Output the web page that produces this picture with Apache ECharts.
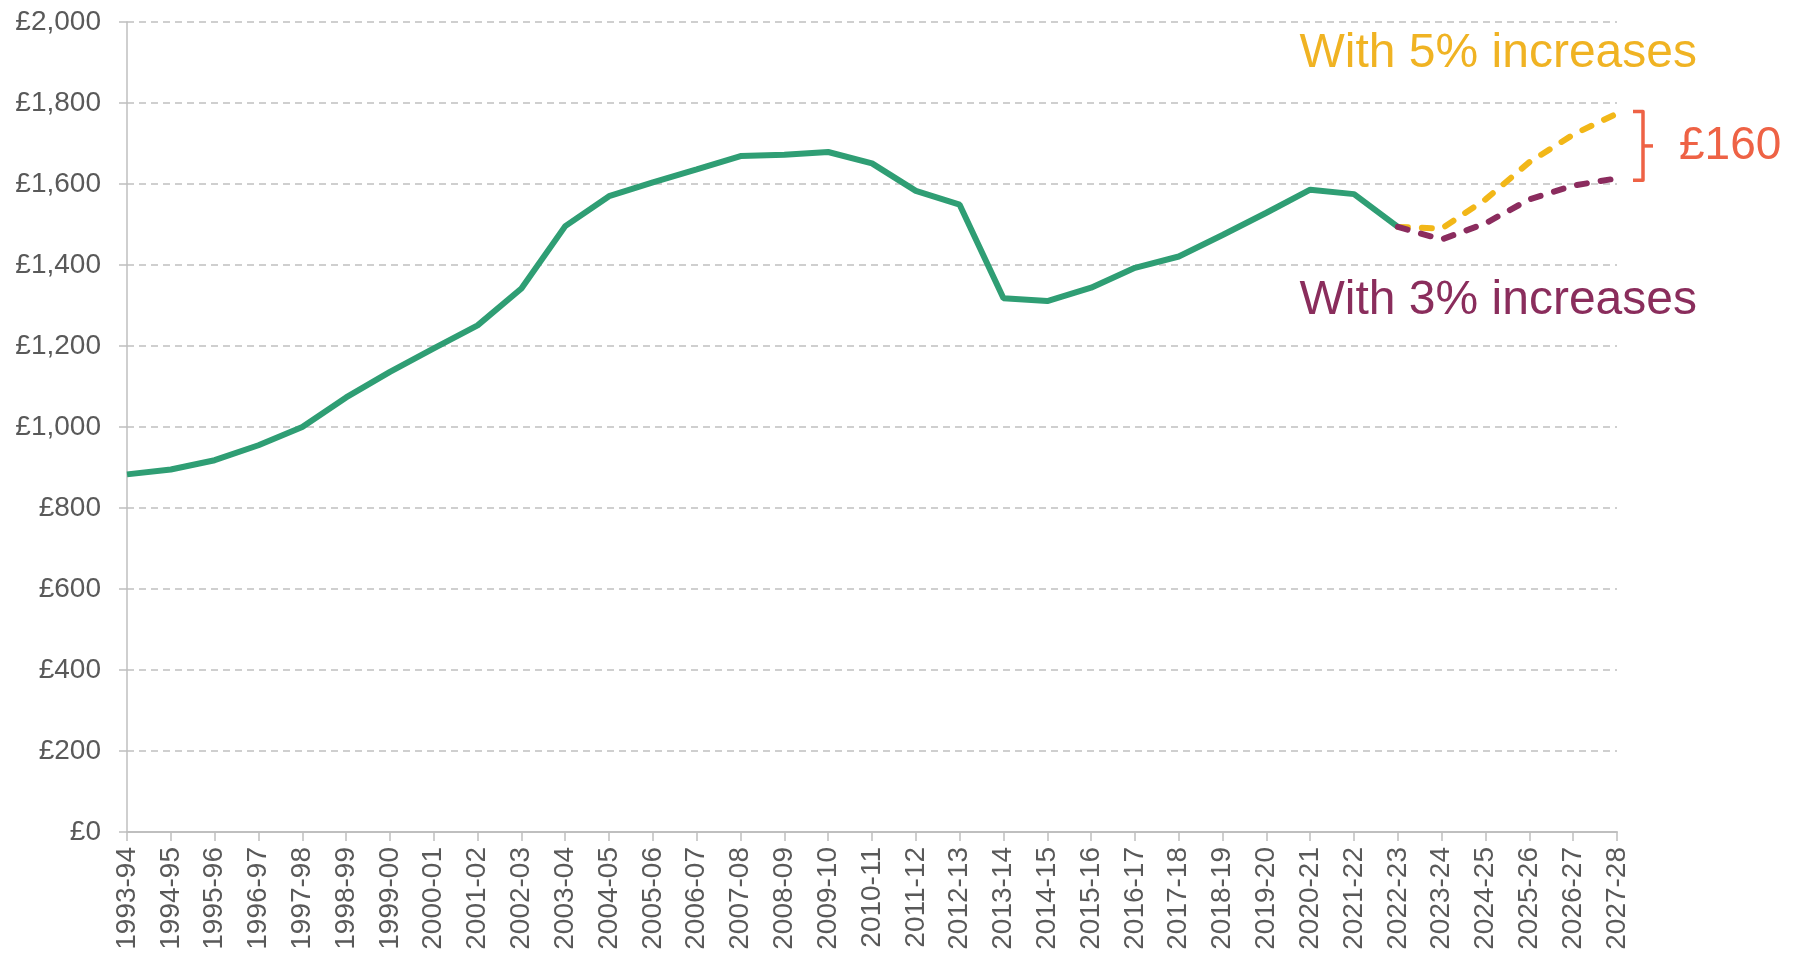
<!DOCTYPE html>
<html>
<head>
<meta charset="utf-8">
<script src="https://cdn.jsdelivr.net/npm/echarts@6/dist/echarts.min.js"></script>
<style>
html,body{margin:0;padding:0;background:#fff;}
#chart{width:1793px;height:959px;}
</style>
</head>
<body>
<div id="chart"></div>
<script>
const categories = ['1993-94','1994-95','1995-96','1996-97','1997-98','1998-99','1999-00','2000-01','2001-02','2002-03','2003-04','2004-05','2005-06','2006-07','2007-08','2008-09','2009-10','2010-11','2011-12','2012-13','2013-14','2014-15','2015-16','2016-17','2017-18','2018-19','2019-20','2020-21','2021-22','2022-23','2023-24','2024-25','2025-26','2026-27','2027-28'];
const actual = [883,895,918,955,1000,1073,1136,1194,1251,1342,1496,1570,1604,1636,1669,1672,1679,1651,1583,1549,1318,1311,1344,1393,1421,1474,1529,1586,1575,1494,null,null,null,null,null];
const with5 = [null,null,null,null,null,null,null,null,null,null,null,null,null,null,null,null,null,null,null,null,null,null,null,null,null,null,null,null,null,1494,1490,1562,1654,1722,1774];
const with3 = [null,null,null,null,null,null,null,null,null,null,null,null,null,null,null,null,null,null,null,null,null,null,null,null,null,null,null,null,null,1494,1463,1503,1562,1596,1614];
const label5 = 'With 5% increases';
const label3 = 'With 3% increases';
const gapLabel = '£160';

const FONT = '"Liberation Sans", Arial, sans-serif';
const chart = echarts.init(document.getElementById('chart'));
chart.setOption({
  animation: false,
  backgroundColor: '#ffffff',
  grid: {left: 127, right: 176, top: 22, bottom: 127, containLabel: false},
  xAxis: {
    type: 'category',
    data: categories,
    boundaryGap: false,
    axisLine: {lineStyle: {color: '#bfbfbf', width: 2}},
    axisTick: {show: true, length: 9, lineStyle: {color: '#bfbfbf', width: 1.5}},
    axisLabel: {interval: 0, rotate: 90, margin: 15, color: '#595959', fontSize: 28, fontFamily: FONT},
    splitLine: {show: false}
  },
  yAxis: {
    type: 'value',
    min: 0, max: 2000, interval: 200,
    axisLine: {show: true, lineStyle: {color: '#bfbfbf', width: 1.5}},
    axisTick: {show: true, length: 8, lineStyle: {color: '#bfbfbf', width: 1.5}},
    axisLabel: {margin: 26, color: '#595959', fontSize: 28, fontFamily: FONT,
      formatter: v => '£' + v.toLocaleString('en-GB')},
    splitLine: {show: true, lineStyle: {color: '#c0c0c0', width: 1.5, type: [7, 5]}}
  },
  series: [
    {name: 'Actual', type: 'line', data: actual, symbol: 'none', connectNulls: false,
      lineStyle: {color: '#2f9e74', width: 6}, z: 3},
    {name: label5, type: 'line', data: with5, symbol: 'none',
      lineStyle: {color: '#f2b718', width: 6, type: [10, 14], cap: 'round'}, z: 2},
    {name: label3, type: 'line', data: with3, symbol: 'none',
      lineStyle: {color: '#8b2c5e', width: 6, type: [10, 14], cap: 'round'}, z: 4}
  ]
});

// Annotations positioned from the data via the chart's own scales
const n = categories.length - 1;
const xEnd = chart.convertToPixel({xAxisIndex: 0}, categories[n]);
const yTop = chart.convertToPixel({yAxisIndex: 0}, with5[n]);
const yBot = chart.convertToPixel({yAxisIndex: 0}, with3[n]);
const bx = xEnd + 26;
const yMid = (yTop + yBot) / 2;
const red = '#ee6245';
chart.setOption({
  graphic: [
    {type: 'polyline', shape: {points: [[bx - 10, yTop - 2], [bx, yTop - 2], [bx, yBot + 2], [bx - 10, yBot + 2]]},
      style: {stroke: red, lineWidth: 3.5, fill: null, lineJoin: 'round'}},
    {type: 'line', shape: {x1: bx, y1: yMid, x2: bx + 10, y2: yMid}, style: {stroke: red, lineWidth: 3.5}},
    {type: 'text', x: bx + 36, y: yMid, style: {text: gapLabel, fill: red, font: '46px ' + FONT, textAlign: 'left', textVerticalAlign: 'middle'}},
    {type: 'text', x: 1697, y: 54, style: {text: label5, fill: '#f0b323', font: '48px ' + FONT, textAlign: 'right', textVerticalAlign: 'middle'}},
    {type: 'text', x: 1697, y: 301, style: {text: label3, fill: '#8a2d5c', font: '48px ' + FONT, textAlign: 'right', textVerticalAlign: 'middle'}}
  ]
});
</script>
</body>
</html>
